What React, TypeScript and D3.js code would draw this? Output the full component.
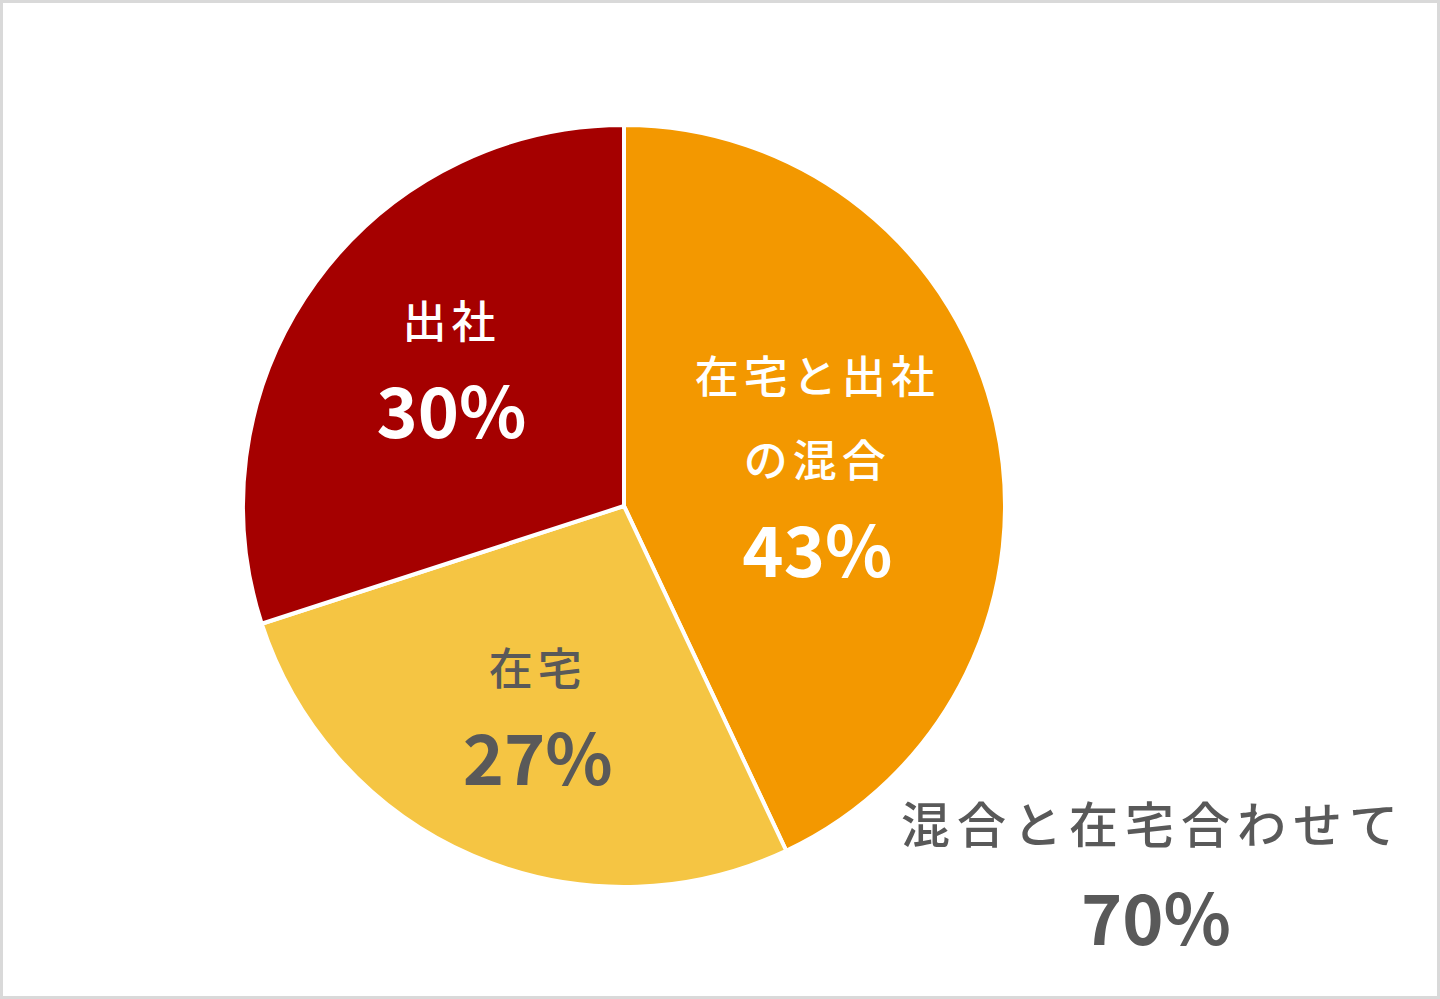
import React from "react";
import * as d3 from "d3";

const categories = ["在宅と出社の混合", "在宅", "出社"];
const labelLines = [["在宅と出社", "の混合"], ["在宅"], ["出社"]];
const values = [43, 27, 30];
const colors = ["#F39800", "#F5C543", "#A50000"];
const textColors = ["#FFFFFF", "#595959", "#FFFFFF"];
const labelRadius = [0.52, 0.57, 0.56];
const labelShift = [4, 12, -11];
const noteLine = "混合と在宅合わせて";
const noteValue = 70;

const W = 1440;
const H = 999;
const cx = 624;
const cy = 506;
const R = 381;
const FONT = "'Noto Sans CJK JP', 'Noto Sans', sans-serif";

export default function App() {
  const data = categories.map((c, i) => ({ name: c, value: values[i], i }));
  const pie = d3.pie<any>().sort(null).value((d) => d.value);
  const arcs = pie(data);
  const arc = d3.arc<any>().innerRadius(0).outerRadius(R);

  return (
    <svg width={W} height={H} style={{ position: "absolute", left: 0, top: 0 }}>
      <rect x={0} y={0} width={W} height={H} fill="#ffffff" />
      <rect x={1.5} y={1.5} width={W - 3} height={H - 3} fill="none" stroke="#D9D9D9" strokeWidth={3} />
      <g transform={`translate(${cx},${cy})`}>
        {arcs.map((a, k) => (
          <path key={k} d={arc(a) as string} fill={colors[a.data.i]} stroke="#ffffff" strokeWidth={4} strokeLinejoin="round" />
        ))}
        {arcs.map((a, k) => {
          const i = a.data.i;
          const lr = R * labelRadius[i];
          const [lx, ly] = d3.arc<any>().innerRadius(lr).outerRadius(lr).centroid(a);
          const lines = labelLines[i];
          const lineGap = 84;
          const nameH = (lines.length - 1) * lineGap;
          const top = ly - (nameH + 100) / 2 + 18 + labelShift[i];
          return (
            <g key={"l" + k} fill={textColors[i]} fontFamily={FONT} textAnchor="middle">
              {lines.map((t, j) => (
                <text key={j} x={lx} y={top + j * lineGap} fontSize={44} fontWeight={500} letterSpacing={5}>
                  {t}
                </text>
              ))}
              <text x={lx} y={top + nameH + 100} fontSize={70} fontWeight={700}>
                {values[i]}%
              </text>
            </g>
          );
        })}
      </g>
      <g fill="#595959" fontFamily={FONT} textAnchor="middle">
        <text x={1153} y={843} fontSize={49} fontWeight={500} letterSpacing={7}>
          {noteLine}
        </text>
        <text x={1156} y={945} fontSize={70} fontWeight={700}>
          {noteValue}%
        </text>
      </g>
    </svg>
  );
}
